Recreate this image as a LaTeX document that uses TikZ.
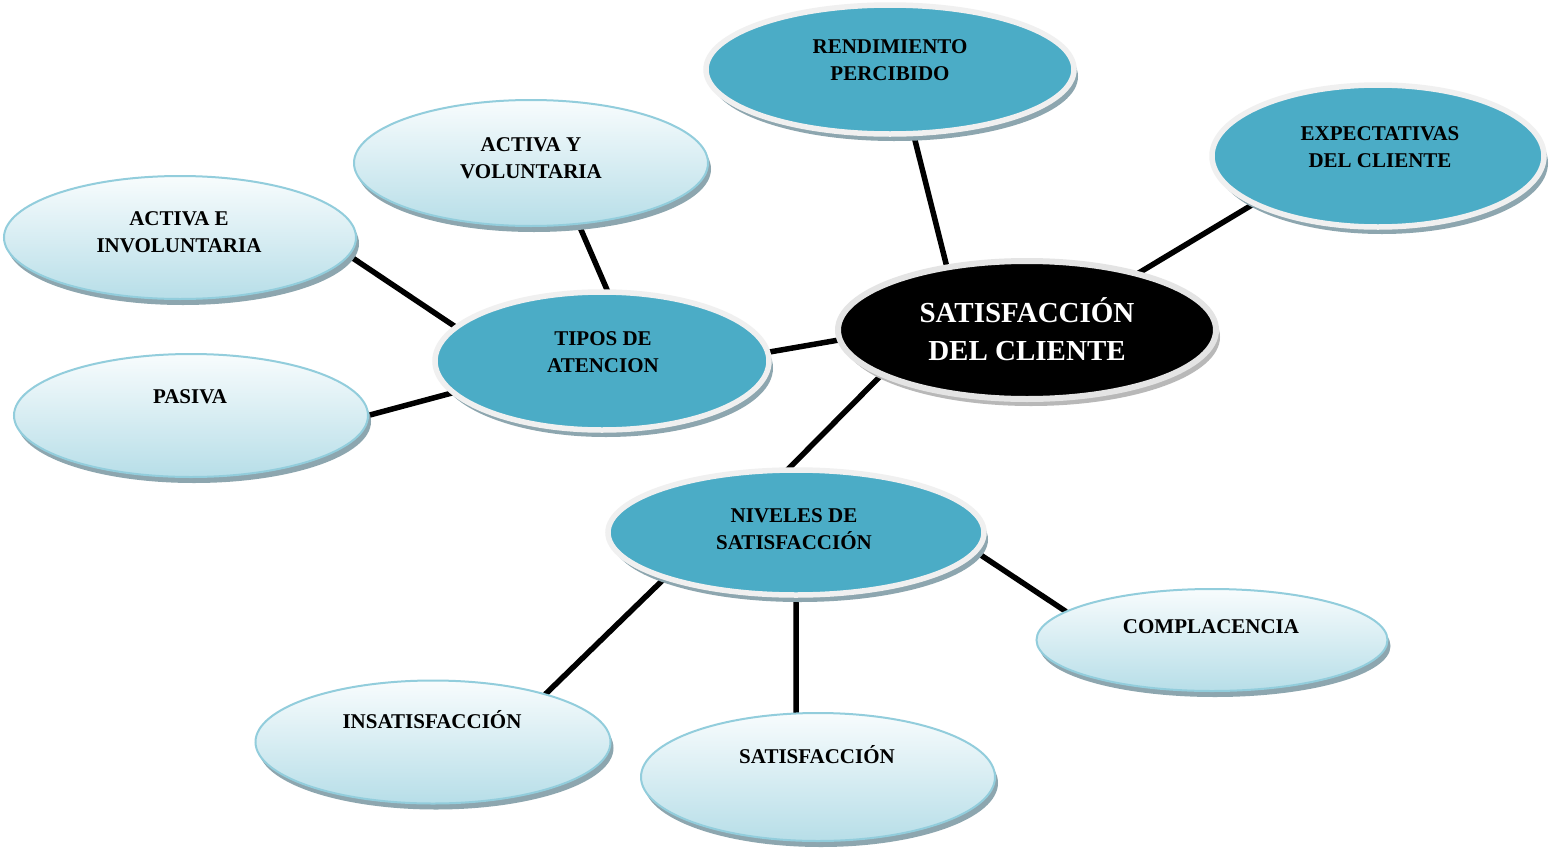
\documentclass[tikz,border=0pt]{standalone}
\usepackage{fontspec}
\setmainfont{Liberation Serif}
\usetikzlibrary{shapes.geometric,shadows,backgrounds}

\definecolor{tealfill}{HTML}{4BACC6}
\definecolor{ringgrey}{HTML}{F0F0F0}
\definecolor{coreRing}{HTML}{E4E4E4}
\definecolor{paleblue}{HTML}{B7DEE8}
\definecolor{paletop}{HTML}{F8FCFD}
\definecolor{edgeblue}{HTML}{92CDDC}
\definecolor{shadowblue}{HTML}{8DA6AF}
\definecolor{coreshadow}{HTML}{B8B8B8}

\tikzset{
  bubble/.style={ellipse, inner sep=0pt, outer sep=0pt},
  darkbubble/.style={bubble, fill=tealfill, draw=ringgrey, line width=5.5pt,
    drop shadow={shadow xshift=4pt, shadow yshift=-7pt, fill=shadowblue, opacity=1}},
  corebubble/.style={bubble, fill=black, draw=coreRing, line width=6pt,
    drop shadow={shadow xshift=4pt, shadow yshift=-7pt, fill=coreshadow, opacity=1}},
  palebubble/.style={bubble, top color=paletop, bottom color=paleblue, draw=edgeblue, line width=2pt,
    drop shadow={shadow xshift=3pt, shadow yshift=-6pt, fill=shadowblue, opacity=1}},
  caption/.style={font=\bfseries\fontsize{21}{27}\selectfont, align=center, inner sep=0pt},
  bigcaption/.style={font=\bfseries\fontsize{29}{38}\selectfont, text=white, align=center, inner sep=0pt},
  link/.style={line width=5.5pt, black},
}

\begin{document}
\begin{tikzpicture}[x=1pt, y=-1pt]
\useasboundingbox (0,0) rectangle (1551,849);

% central concept
\node[corebubble, minimum width=378pt, minimum height=138pt] (core) at (1027,330) {};
\node[bigcaption] (core-t) at (1027,329) {SATISFACCIÓN\\DEL CLIENTE};

% first-level concepts
\node[darkbubble, minimum width=368pt, minimum height=129pt] (rend) at (890,69.5) {};
\node[caption] (rend-t) at (890,60) {RENDIMIENTO\\PERCIBIDO};

\node[darkbubble, minimum width=332pt, minimum height=142pt] (expe) at (1378,156) {};
\node[caption] (expe-t) at (1380,147) {EXPECTATIVAS\\DEL CLIENTE};

\node[darkbubble, minimum width=334pt, minimum height=138pt] (tipos) at (602,361) {};
\node[caption] (tipos-t) at (603,352) {TIPOS DE\\ATENCION};

\node[darkbubble, minimum width=376pt, minimum height=125pt] (niv) at (796,532.5) {};
\node[caption] (niv-t) at (794,529) {NIVELES DE\\SATISFACCIÓN};

% kinds of attention
\node[palebubble, minimum width=354pt, minimum height=126pt] (acty) at (531,163) {};
\node[caption] (acty-t) at (531,158) {ACTIVA Y\\VOLUNTARIA};

\node[palebubble, minimum width=352pt, minimum height=123pt] (acte) at (180,237.5) {};
\node[caption] (acte-t) at (179,232) {ACTIVA E\\INVOLUNTARIA};

\node[palebubble, minimum width=354pt, minimum height=123pt] (pas) at (191,415.5) {};
\node[caption] (pas-t) at (190,397) {PASIVA};

% satisfaction levels
\node[palebubble, minimum width=351pt, minimum height=102pt] (compl) at (1212,640) {};
\node[caption] (compl-t) at (1211,627) {COMPLACENCIA};

\node[palebubble, minimum width=355pt, minimum height=123pt] (insat) at (433,742) {};
\node[caption] (insat-t) at (432,720) {INSATISFACCIÓN};

\node[palebubble, minimum width=354pt, minimum height=128pt] (sat) at (818,777) {};
\node[caption] (sat-t) at (817,755) {SATISFACCIÓN};

% connectors, kept behind the bubbles
\begin{scope}[on background layer]
  \fill[white] (0,0) rectangle (1551,849);
  \draw[link] (rend.-70.5) -- (core.142);
  \draw[link] (expe.201) -- (core.27.6);
  \draw[link] (tipos.3) -- (core.183);
  \draw[link] (core.197.4) -- (niv.98.7);
  \draw[link] (tipos.85) -- (acty.-52);
  \draw[link] (tipos.167) -- (acte.-6);
  \draw[link] (tipos.192.6) -- (pas.0);
  \draw[link] (niv.-6) -- (compl.169.4);
  \draw[link] (niv.199.5) -- (insat.23.4);
  \draw[link] (niv.-90) -- (sat.109);
\end{scope}
\end{tikzpicture}
\end{document}
